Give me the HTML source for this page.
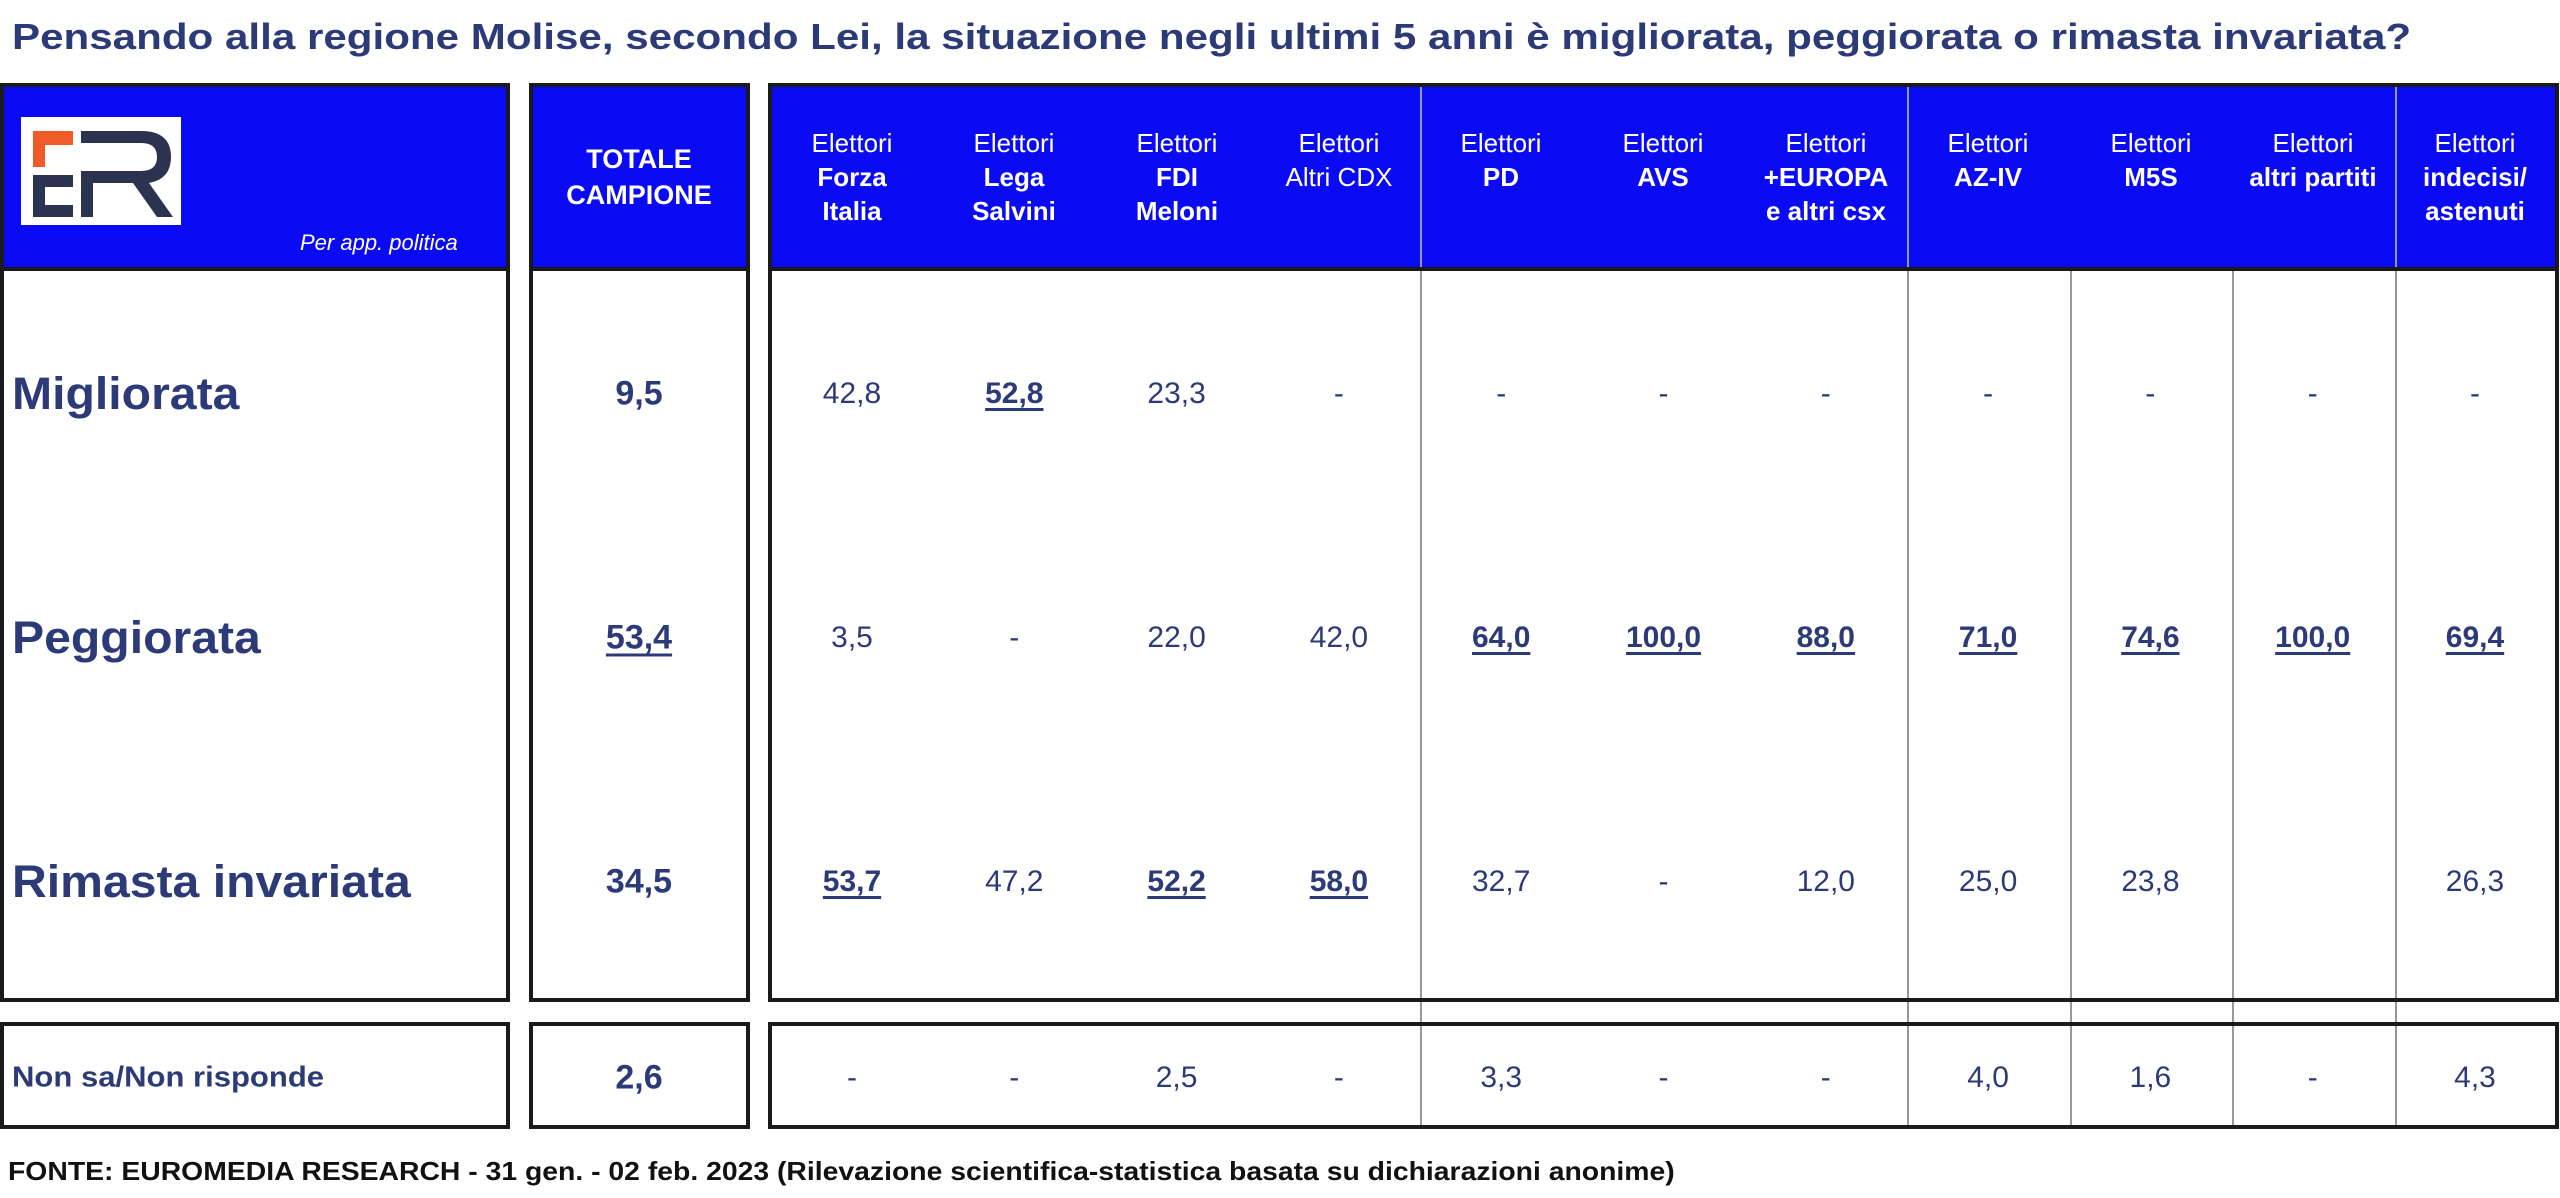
<!DOCTYPE html>
<html><head><meta charset="utf-8"><style>
body{margin:0;width:2560px;height:1198px;background:#fff;position:relative;overflow:hidden;font-family:"Liberation Sans",sans-serif;}
.a{position:absolute;}
.box{position:absolute;border:4px solid #1a1a1a;box-sizing:border-box;}
.hd{position:absolute;background:#0a0af5;}
.t{position:absolute;text-align:center;color:#2d3a78;transform:translate(-50%,-50%);white-space:nowrap;}
.h{position:absolute;text-align:center;color:#fff;transform:translate(-50%,-50%);white-space:nowrap;font-size:26px;line-height:34px;}
.h b{font-weight:bold;}
.v{position:absolute;width:2px;background:#999;}
.lab{position:absolute;color:#2d3a78;font-weight:bold;transform:translateY(-50%) scaleX(1.07);transform-origin:left center;white-space:nowrap;}
u{text-decoration-thickness:3px;text-underline-offset:5px;}
</style></head><body>
<div class="a" style="left:12px;top:16px;font-size:36px;font-weight:bold;color:#2d3a78;white-space:nowrap;transform:scaleX(1.17);transform-origin:left top;">Pensando alla regione Molise, secondo Lei, la situazione negli ultimi 5 anni è migliorata, peggiorata o rimasta invariata?</div>

<div class="hd" style="left:3px;top:85px;width:503px;height:183px"></div>
<div class="hd" style="left:532px;top:85px;width:214px;height:183px"></div>
<div class="hd" style="left:771px;top:85px;width:1785px;height:183px"></div>

<div class="v" style="left:1420px;top:85px;height:1042px"></div>
<div class="v" style="left:1907px;top:85px;height:1042px"></div>
<div class="v" style="left:2070px;top:268px;height:859px"></div>
<div class="v" style="left:2232px;top:268px;height:859px"></div>
<div class="v" style="left:2395px;top:85px;height:1042px"></div>

<div class="box" style="left:0;top:83px;width:510px;height:188px"></div>
<div class="box" style="left:0;top:267px;width:510px;height:735px"></div>
<div class="box" style="left:0;top:1022px;width:510px;height:107px"></div>
<div class="box" style="left:529px;top:83px;width:221px;height:188px"></div>
<div class="box" style="left:529px;top:267px;width:221px;height:735px"></div>
<div class="box" style="left:529px;top:1022px;width:221px;height:107px"></div>
<div class="box" style="left:768px;top:83px;width:1791px;height:188px"></div>
<div class="box" style="left:768px;top:267px;width:1791px;height:735px"></div>
<div class="box" style="left:768px;top:1022px;width:1791px;height:107px"></div>

<div class="a" style="left:21px;top:117px;width:160px;height:108px;background:#fff;"></div>
<svg class="a" style="left:21px;top:117px" width="160" height="108" viewBox="0 0 160 108">
<path d="M12 14 H52 V28 H24 V50 H12 Z" fill="#f05a28"/>
<path d="M12 58 H52 V70 H24 V88 H52 V100 H12 Z" fill="#2c3350" />
<path d="M60 14 H120 Q150 14 150 40 Q150 62 128 66 L152 100 H136 L112 66 H72 V100 H60 V54 H120 Q136 54 136 40 Q136 26 120 26 H60 Z" fill="#2c3350"/>
</svg>
<div class="a" style="left:300px;top:230px;font-size:22px;font-style:italic;color:#fff;">Per app. politica</div>

<div class="h" style="left:639px;top:177px;font-weight:bold;font-size:27px;line-height:36px">TOTALE<br>CAMPIONE</div>

<div class="h" style="left:852px;top:177px">Elettori<br><b>Forza<br>Italia</b></div>
<div class="h" style="left:1014px;top:177px">Elettori<br><b>Lega<br>Salvini</b></div>
<div class="h" style="left:1177px;top:177px">Elettori<br><b>FDI<br>Meloni</b></div>
<div class="h" style="left:1339px;top:160px">Elettori<br>Altri CDX</div>
<div class="h" style="left:1501px;top:160px">Elettori<br><b>PD</b></div>
<div class="h" style="left:1663px;top:160px">Elettori<br><b>AVS</b></div>
<div class="h" style="left:1826px;top:177px">Elettori<br><b>+EUROPA<br>e altri csx</b></div>
<div class="h" style="left:1988px;top:160px">Elettori<br><b>AZ-IV</b></div>
<div class="h" style="left:2151px;top:160px">Elettori<br><b>M5S</b></div>
<div class="h" style="left:2313px;top:160px">Elettori<br><b>altri partiti</b></div>
<div class="h" style="left:2475px;top:177px">Elettori<br><b>indecisi/<br>astenuti</b></div>

<div class="lab" style="left:12px;top:394px;font-size:45px">Migliorata</div>
<div class="lab" style="left:12px;top:638px;font-size:45px">Peggiorata</div>
<div class="lab" style="left:12px;top:882px;font-size:45px">Rimasta invariata</div>
<div class="lab" style="left:12px;top:1078px;font-size:29px">Non sa/Non risponde</div>

<div id="vals"></div>
<script>
var rows=[[394,"9,5",["42,8","*52,8","23,3","-","-","-","-","-","-","-","-"]],
[638,"*53,4",["3,5","-","22,0","42,0","*64,0","*100,0","*88,0","*71,0","*74,6","*100,0","*69,4"]],
[882,"34,5",["*53,7","47,2","*52,2","*58,0","32,7","-","12,0","25,0","23,8","","26,3"]],
[1078,"2,6",["-","-","2,5","-","3,3","-","-","4,0","1,6","-","4,3"]]];
var h="";
function cell(x,y,s,big){var b=s[0]=="*";if(b)s=s.slice(1);var txt=b?"<u>"+s+"</u>":s;
return '<div class="t" style="left:'+x+'px;top:'+y+'px;font-size:'+(big?34:30)+'px;'+(b||big?'font-weight:bold;':'')+'">'+txt+'</div>';}
rows.forEach(function(r){h+=cell(639,r[0],r[1],true);r[2].forEach(function(v,i){h+=cell(852+162.3*i,r[0],v,false);});});
document.getElementById("vals").innerHTML=h;
</script>

<div class="a" style="left:8px;top:1156px;font-size:26px;font-weight:bold;color:#111;white-space:nowrap;transform:scaleX(1.09);transform-origin:left top;">FONTE: EUROMEDIA RESEARCH - 31 gen. - 02 feb. 2023 (Rilevazione scientifica-statistica basata su dichiarazioni anonime)</div>
</body></html>
